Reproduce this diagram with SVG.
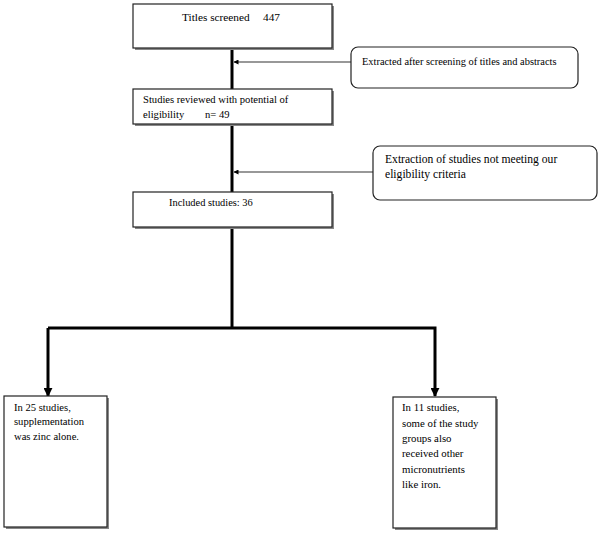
<svg xmlns="http://www.w3.org/2000/svg" width="600" height="533" viewBox="0 0 600 533">
<style>
text{font-family:"Liberation Serif","Times New Roman",serif;fill:#000}
.box{fill:#fff;stroke:#222;stroke-width:1.2}
.sh{fill:#888}
.thick{stroke:#000;stroke-width:3;fill:none}
.thin{stroke:#333;stroke-width:1.2;fill:none}
</style>
<defs>
<marker id="ah" viewBox="0 0 10 10" refX="9" refY="5" markerWidth="5" markerHeight="5" orient="auto" markerUnits="userSpaceOnUse">
<path d="M0,0 L10,5 L0,10 z" fill="#000"/>
</marker>
<marker id="ahb" viewBox="0 0 10 10" refX="9" refY="5" markerWidth="9" markerHeight="9" orient="auto" markerUnits="userSpaceOnUse">
<path d="M0,0 L10,5 L0,10 z" fill="#000"/>
</marker>
</defs>
<rect width="600" height="533" fill="#fff"/>
<g id="connectors">
<line class="thick" x1="232" y1="48" x2="232" y2="89"/>
<line class="thick" x1="232" y1="124" x2="232" y2="192"/>
<line class="thick" x1="232" y1="227" x2="232" y2="328"/>
<polyline class="thick" points="48,328 435,328 435,396" marker-end="url(#ahb)"/>
<line class="thick" x1="48" y1="328" x2="48" y2="396" marker-end="url(#ahb)"/>
<line class="thin" x1="351" y1="62" x2="234" y2="62" marker-end="url(#ah)"/>
<line class="thin" x1="373" y1="172" x2="234" y2="172" marker-end="url(#ah)"/>
</g>
<g id="n1">
<rect class="sh" x="135" y="6" width="199" height="44"/>
<rect class="box" x="133" y="4" width="199" height="44"/>
<text x="182" y="21" font-size="11.3">Titles screened</text>
<text x="263" y="21" font-size="11.3">447</text>
</g>
<g id="e1">
<rect class="box" x="351" y="47" width="227" height="41" rx="7"/>
<text x="362" y="65" font-size="10.4">Extracted after screening of titles and abstracts</text>
</g>
<g id="n2">
<rect class="sh" x="135" y="91" width="199" height="35"/>
<rect class="box" x="133" y="89" width="199" height="35"/>
<text x="143" y="103" font-size="10.6">Studies reviewed with potential of</text>
<text x="143" y="118" font-size="10.6">eligibility</text>
<text x="205" y="118" font-size="10.6">n= 49</text>
</g>
<g id="e2">
<rect class="box" x="373" y="146" width="224" height="54" rx="7"/>
<text x="385" y="163" font-size="11.6">Extraction of studies not meeting our</text>
<text x="385" y="178" font-size="11.6">eligibility criteria</text>
</g>
<g id="n3">
<rect class="sh" x="135" y="194" width="199" height="35"/>
<rect class="box" x="133" y="192" width="199" height="35"/>
<text x="169" y="206" font-size="10.4">Included studies: 36</text>
</g>
<g id="n4">
<rect class="sh" x="6" y="398" width="103" height="131"/>
<rect class="box" x="4" y="396" width="103" height="131"/>
<text font-size="10.6"><tspan x="14" y="411">In 25 studies,</tspan><tspan x="14" y="425">supplementation</tspan><tspan x="14" y="440">was zinc alone.</tspan></text>
</g>
<g id="n5">
<rect class="sh" x="395" y="399" width="103" height="131"/>
<rect class="box" x="393" y="397" width="103" height="131"/>
<text font-size="10.8"><tspan x="402" y="411">In 11 studies,</tspan><tspan x="402" y="427">some of the study</tspan><tspan x="402" y="442">groups also</tspan><tspan x="402" y="457">received other</tspan><tspan x="402" y="473">micronutrients</tspan><tspan x="402" y="488">like iron.</tspan></text>
</g>
</svg>
